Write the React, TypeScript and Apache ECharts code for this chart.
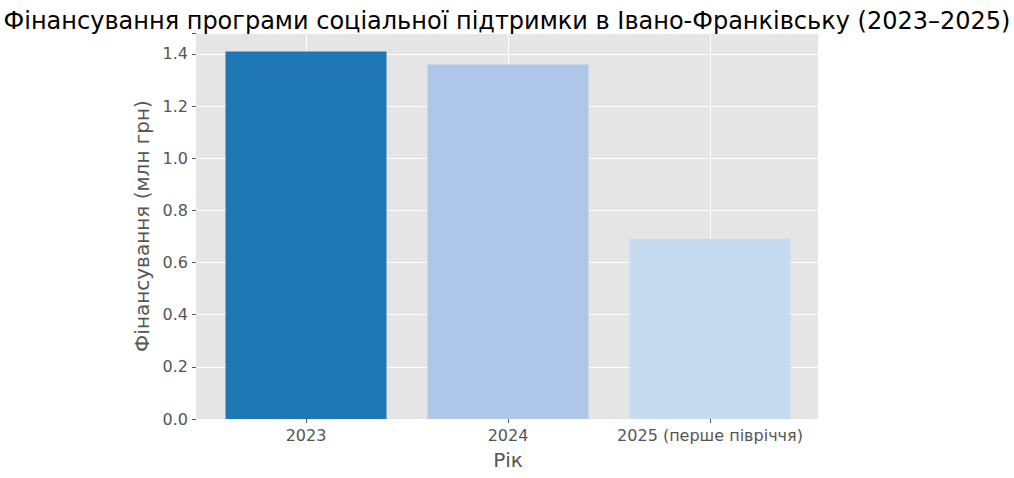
import React, { useEffect, useRef } from "react";
import * as echarts from "echarts";

const categories = ["2023", "2024", "2025 (перше півріччя)"];
const values = [1.41, 1.36, 0.69];
const barColors = ["#1f77b4", "#aec7e8", "#c6dbef"];
const yTicks = [0, 0.2, 0.4, 0.6, 0.8, 1.0, 1.2, 1.4];

const FONT = "DejaVu Sans";

export default function App() {
  const ref = useRef<HTMLDivElement>(null);
  useEffect(() => {
    if (!ref.current) return;
    const chart = echarts.init(ref.current, null, { renderer: "svg" });
    const yMax = 1.4805;
    const labelStyle = { color: "#555555", fontFamily: FONT, fontSize: 16 };
    chart.setOption({
      animation: false,
      title: {
        text: "Фінансування програми соціальної підтримки в Івано-Франківську (2023–2025)",
        left: "center",
        top: 4,
        textStyle: { fontFamily: FONT, fontSize: 24, fontWeight: "normal", color: "#000" },
      },
      grid: [
        { left: 196, right: 196, top: 33, bottom: 59, show: true, backgroundColor: "#E5E5E5", borderWidth: 0 },
        { left: 205, right: 203, top: 33, bottom: 59, show: false },
      ],
      xAxis: [
        { type: "value", gridIndex: 0, min: 0, max: 1, show: false },
        {
          type: "category",
          gridIndex: 1,
          data: categories,
          boundaryGap: true,
          axisLine: { show: false },
          axisTick: { show: true, alignWithLabel: true, interval: 0, length: 4, lineStyle: { color: "#555555" } },
          axisLabel: { ...labelStyle, margin: 8, interval: 0 },
          splitLine: { show: false },
          name: "Рік",
          nameLocation: "middle",
          nameGap: 31,
          nameTextStyle: { color: "#555555", fontFamily: FONT, fontSize: 20 },
        },
      ],
      yAxis: [
        {
          type: "value",
          gridIndex: 0,
          min: 0,
          max: yMax,
          interval: 0.2,
          axisLine: { show: false },
          axisTick: { show: true, length: 4, lineStyle: { color: "#555555" } },
          axisLabel: {
            ...labelStyle,
            margin: 8,
            formatter: (v: number) => (yTicks.some((t) => Math.abs(t - v) < 1e-6) ? v.toFixed(1) : ""),
          },
          splitLine: { show: true, lineStyle: { color: "#ffffff", width: 1 } },
          name: "Фінансування (млн грн)",
          nameLocation: "middle",
          nameRotate: 90,
          nameGap: 39,
          nameTextStyle: { color: "#555555", fontFamily: FONT, fontSize: 20 },
        },
        { type: "value", gridIndex: 1, min: 0, max: yMax, show: false },
      ],
      series: [
        {
          type: "scatter",
          xAxisIndex: 1,
          yAxisIndex: 1,
          data: [],
          z: 1,
          silent: true,
          markLine: {
            silent: true,
            z: 1,
            symbol: ["none", "none"],
            label: { show: false },
            lineStyle: { color: "#ffffff", width: 1, type: "solid" },
            data: categories.map((c) => ({ xAxis: c })),
          },
        },
        {
          type: "bar",
          xAxisIndex: 1,
          yAxisIndex: 1,
          barWidth: 161,
          z: 5,
          data: values.map((v, i) => ({ value: v, itemStyle: { color: barColors[i] } })),
        },
      ],
    });
    return () => chart.dispose();
  }, []);
  return <div ref={ref} style={{ width: 1014, height: 478, position: "absolute", left: 0, top: 0 }} />;
}
